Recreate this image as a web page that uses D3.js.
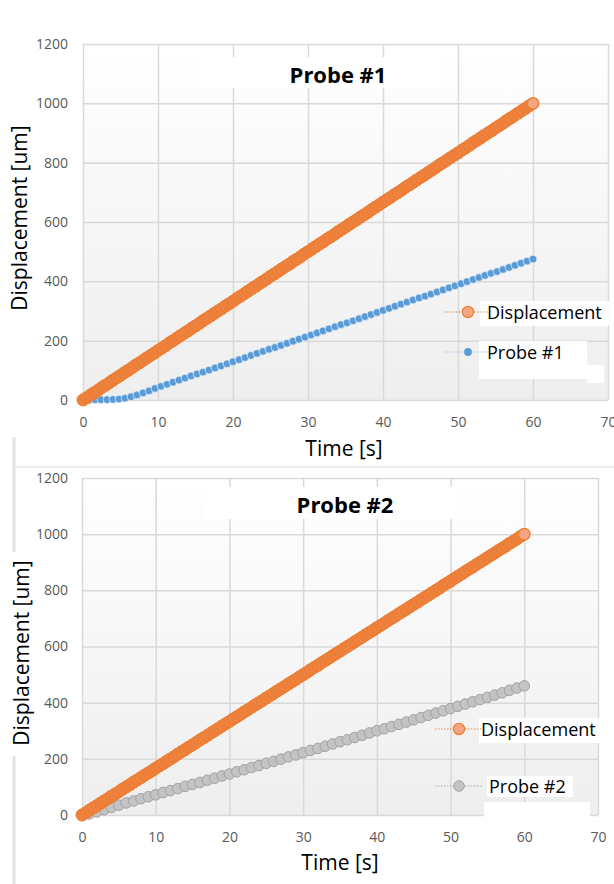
<!DOCTYPE html>
<html>
<head>
<meta charset="utf-8">
<script src="https://cdn.jsdelivr.net/npm/d3@7"></script>
<style>
  body { margin: 0; background: #fff; }
  text { font-family: "Open Sans", "DejaVu Sans", sans-serif; }
</style>
</head>
<body>
<div id="chart"></div>
<script>
const timeTicks = [0, 10, 20, 30, 40, 50, 60, 70];
const dispTicks = [0, 200, 400, 600, 800, 1000, 1200];

// imposed displacement, 0.5 s sampling
const dispTime = [
  0, 0.5, 1, 1.5, 2, 2.5, 3, 3.5, 4, 4.5, 5, 5.5, 6, 6.5, 7, 7.5, 8, 8.5, 9, 9.5,
  10, 10.5, 11, 11.5, 12, 12.5, 13, 13.5, 14, 14.5, 15, 15.5, 16, 16.5, 17, 17.5, 18, 18.5, 19, 19.5,
  20, 20.5, 21, 21.5, 22, 22.5, 23, 23.5, 24, 24.5, 25, 25.5, 26, 26.5, 27, 27.5, 28, 28.5, 29, 29.5,
  30, 30.5, 31, 31.5, 32, 32.5, 33, 33.5, 34, 34.5, 35, 35.5, 36, 36.5, 37, 37.5, 38, 38.5, 39, 39.5,
  40, 40.5, 41, 41.5, 42, 42.5, 43, 43.5, 44, 44.5, 45, 45.5, 46, 46.5, 47, 47.5, 48, 48.5, 49, 49.5,
  50, 50.5, 51, 51.5, 52, 52.5, 53, 53.5, 54, 54.5, 55, 55.5, 56, 56.5, 57, 57.5, 58, 58.5, 59, 59.5,
  60
];
const dispValues = [
  0, 8, 17, 25, 33, 42, 50, 58, 67, 75, 83, 92,
  100, 108, 117, 125, 133, 142, 150, 158, 167, 175, 183, 192,
  200, 208, 217, 225, 233, 242, 250, 258, 267, 275, 283, 292,
  300, 308, 317, 325, 333, 342, 350, 358, 367, 375, 383, 392,
  400, 408, 417, 425, 433, 442, 450, 458, 467, 475, 483, 492,
  500, 508, 517, 525, 533, 542, 550, 558, 567, 575, 583, 592,
  600, 608, 617, 625, 633, 642, 650, 658, 667, 675, 683, 692,
  700, 708, 717, 725, 733, 742, 750, 758, 767, 775, 783, 792,
  800, 808, 817, 825, 833, 842, 850, 858, 867, 875, 883, 892,
  900, 908, 917, 925, 933, 942, 950, 958, 967, 975, 983, 992,
  1000
];

// probe #1, 0.8 s sampling
const probe1Time = [
  0, 0.8, 1.6, 2.4, 3.2, 4, 4.8, 5.6, 6.4, 7.2, 8, 8.8, 9.6,
  10.4, 11.2, 12, 12.8, 13.6, 14.4, 15.2, 16, 16.8, 17.6, 18.4, 19.2,
  20, 20.8, 21.6, 22.4, 23.2, 24, 24.8, 25.6, 26.4, 27.2, 28, 28.8, 29.6,
  30.4, 31.2, 32, 32.8, 33.6, 34.4, 35.2, 36, 36.8, 37.6, 38.4, 39.2,
  40, 40.8, 41.6, 42.4, 43.2, 44, 44.8, 45.6, 46.4, 47.2, 48, 48.8, 49.6,
  50.4, 51.2, 52, 52.8, 53.6, 54.4, 55.2, 56, 56.8, 57.6, 58.4, 59.2,
  60
];
const probe1Values = [
  0, 0, 1, 1, 1, 2, 3, 6, 11, 17, 24, 31, 39,
  46, 53, 60, 67, 74, 81, 88, 94, 101, 108, 115, 122,
  129, 136, 143, 150, 157, 164, 171, 177, 184, 191, 198, 205, 212,
  219, 226, 233, 240, 247, 254, 260, 267, 274, 281, 288, 295,
  302, 309, 316, 323, 330, 337, 344, 350, 357, 364, 371, 378, 385,
  392, 399, 406, 413, 420, 427, 433, 440, 447, 454, 461, 468,
  475
];

// probe #2, 1 s sampling
const probe2Time = [
  0, 1, 2, 3, 4, 5, 6, 7, 8, 9, 10, 11, 12, 13, 14, 15, 16, 17, 18, 19,
  20, 21, 22, 23, 24, 25, 26, 27, 28, 29, 30, 31, 32, 33, 34, 35, 36, 37, 38, 39,
  40, 41, 42, 43, 44, 45, 46, 47, 48, 49, 50, 51, 52, 53, 54, 55, 56, 57, 58, 59,
  60
];
const probe2Values = [
  0, 4, 11, 19, 27, 35, 43, 50, 58, 65, 72, 80, 87, 94, 102, 109, 116, 124, 131, 139,
  146, 154, 161, 169, 176, 184, 191, 199, 207, 214, 222, 230, 237, 245, 253, 261, 268, 276, 284, 292,
  300, 307, 315, 323, 331, 339, 347, 355, 363, 371, 379, 387, 395, 403, 411, 419, 427, 435, 444, 452,
  460
];

const W = 614, H = 884;

const svg = d3.select('#chart')
  .append('svg')
  .attr('width', W)
  .attr('height', H);

const grad = svg.append('defs')
  .append('linearGradient')
  .attr('id', 'plotBg')
  .attr('x1', 0).attr('y1', 0).attr('x2', 0).attr('y2', 1);
grad.append('stop').attr('offset', '0%').attr('stop-color', '#ffffff');
grad.append('stop').attr('offset', '100%').attr('stop-color', '#eeeeee');

// leftover frame lines of the second chart box
svg.append('line')
  .attr('x1', 14).attr('x2', 14).attr('y1', 437).attr('y2', H)
  .attr('stroke', '#e2e2e2').attr('stroke-width', 3);
svg.append('line')
  .attr('x1', 14).attr('x2', W).attr('y1', 467).attr('y2', 467)
  .attr('stroke', '#e8e8e8').attr('stroke-width', 1.5);

const probe1Pts = probe1Time.map((t, i) => ({ t, v: probe1Values[i] }));
const probe2Pts = probe2Time.map((t, i) => ({ t, v: probe2Values[i] }));
const dispPts = dispTime.map((t, i) => ({ t, v: dispValues[i] }));

const panels = [
  {
    xRange: [83, 608], yRange: [400, 44],
    title: 'Probe #1', titleX: 338, titleY: 83, titleBox: [200, 57, 240, 31],
    timeX: 344, timeY: 456, timeBox: [298, 432, 94, 33],
    yLabelX: 27, yLabelY: 218, yLabelBox: null,
    probe: probe1Pts, probeName: 'Probe #1',
    probeStyle: { r: 3.9, fill: '#5B9BD5', stroke: '#ffffff', sw: 0.6, line: '#9dc3e6' },
    legend: {
      dispY: 312, probeY: 352, markX: 468, dispTextX: 487, probeTextX: 487,
      boxes: [[480, 301, 129, 25], [479, 341, 108, 38], [587, 365, 17, 18]]
    }
  },
  {
    xRange: [82, 598], yRange: [815, 478],
    title: 'Probe #2', titleX: 345, titleY: 513, titleBox: [205, 487, 250, 32],
    timeX: 340, timeY: 870, timeBox: null,
    yLabelX: 29, yLabelY: 653, yLabelBox: [6, 552, 28, 204],
    probe: probe2Pts, probeName: 'Probe #2',
    probeStyle: { r: 5.3, fill: '#C3C3C3', stroke: '#a2a2a2', sw: 1, line: '#a5a5a5' },
    legend: {
      dispY: 729, probeY: 786, markX: 459, dispTextX: 481, probeTextX: 489,
      boxes: [[479, 718, 124, 25], [487, 776, 86, 21], [484, 802, 106, 15]]
    }
  }
];

panels.forEach(p => {
  const x = d3.scaleLinear().domain([0, 70]).range(p.xRange);
  const y = d3.scaleLinear().domain([0, 1200]).range(p.yRange);
  const g = svg.append('g');

  g.append('rect')
    .attr('x', p.xRange[0]).attr('y', p.yRange[1])
    .attr('width', p.xRange[1] - p.xRange[0])
    .attr('height', p.yRange[0] - p.yRange[1])
    .attr('fill', 'url(#plotBg)');

  // grid
  const gx = g.append('g')
    .attr('transform', `translate(0,${p.yRange[0]})`)
    .call(d3.axisBottom(x).tickValues(timeTicks).tickSize(-(p.yRange[0] - p.yRange[1])).tickFormat(''));
  const gy = g.append('g')
    .attr('transform', `translate(${p.xRange[0]},0)`)
    .call(d3.axisLeft(y).tickValues(dispTicks).tickSize(-(p.xRange[1] - p.xRange[0])).tickFormat(''));
  [gx, gy].forEach(a => {
    a.select('.domain').remove();
    a.selectAll('line').attr('stroke', '#d9d9d9').attr('stroke-width', 1.5);
  });

  // tick labels
  const lx = g.append('g')
    .attr('transform', `translate(0,${p.yRange[0]})`)
    .call(d3.axisBottom(x).tickValues(timeTicks).tickSize(0).tickPadding(17).tickFormat(d3.format('d')));
  const ly = g.append('g')
    .attr('transform', `translate(${p.xRange[0]},0)`)
    .call(d3.axisLeft(y).tickValues(dispTicks).tickSize(0).tickPadding(p.xRange[0] - 68).tickFormat(d3.format('d')));
  [lx, ly].forEach(a => {
    a.select('.domain').remove();
    a.selectAll('text')
      .attr('fill', '#595959')
      .style('font-size', '14px')
      .style('font-family', '"Open Sans", sans-serif');
  });

  // white patches behind title
  g.append('rect')
    .attr('x', p.titleBox[0]).attr('y', p.titleBox[1])
    .attr('width', p.titleBox[2]).attr('height', p.titleBox[3])
    .attr('fill', '#fff');
  g.append('text')
    .attr('x', p.titleX).attr('y', p.titleY)
    .attr('text-anchor', 'middle')
    .style('font-size', '22px').style('font-weight', 'bold')
    .text(p.title);

  const line = d3.line().x(d => x(d.t)).y(d => y(d.v));

  // probe series
  g.append('path')
    .datum(p.probe)
    .attr('d', line)
    .attr('fill', 'none')
    .attr('stroke', p.probeStyle.line)
    .attr('stroke-width', 0.8)
    .attr('stroke-dasharray', '1.5,1.5');
  g.append('g').selectAll('circle')
    .data(p.probe)
    .join('circle')
    .attr('cx', d => x(d.t))
    .attr('cy', d => y(d.v))
    .attr('r', p.probeStyle.r)
    .attr('fill', p.probeStyle.fill)
    .attr('stroke', p.probeStyle.stroke)
    .attr('stroke-width', p.probeStyle.sw);

  // displacement series
  g.append('path')
    .datum(dispPts)
    .attr('d', line)
    .attr('fill', 'none')
    .attr('stroke', '#ED7D31')
    .attr('stroke-width', 0.8)
    .attr('stroke-dasharray', '1.5,1.5');
  g.append('g').selectAll('circle')
    .data(dispPts)
    .join('circle')
    .attr('cx', d => x(d.t))
    .attr('cy', d => y(d.v))
    .attr('r', 5.8)
    .attr('fill', (d, i) => i === dispPts.length - 1 ? '#F4A680' : '#EE8240')
    .attr('stroke', '#ED7D31')
    .attr('stroke-width', 1.3);

  // legend
  const L = p.legend;
  L.boxes.forEach(b => {
    g.append('rect')
      .attr('x', b[0]).attr('y', b[1]).attr('width', b[2]).attr('height', b[3])
      .attr('fill', '#fff');
  });
  const legendItems = [
    { y: L.dispY, tx: L.dispTextX, name: 'Displacement', r: 5.6, fill: '#F4A680', stroke: '#ED7D31', sw: 1.3, line: '#ED7D31' },
    { y: L.probeY, tx: L.probeTextX, name: p.probeName, r: p.probeStyle.r, fill: p.probeStyle.fill,
      stroke: p.probeStyle.r > 4 ? p.probeStyle.stroke : 'none', sw: p.probeStyle.sw, line: p.probeStyle.line }
  ];
  legendItems.forEach(it => {
    g.append('line')
      .attr('x1', L.markX - 24).attr('x2', L.markX + 24)
      .attr('y1', it.y).attr('y2', it.y)
      .attr('stroke', it.line).attr('stroke-width', 0.9)
      .attr('stroke-dasharray', '1.5,1.5');
    g.append('circle')
      .attr('cx', L.markX).attr('cy', it.y).attr('r', it.r)
      .attr('fill', it.fill).attr('stroke', it.stroke).attr('stroke-width', it.sw);
    g.append('text')
      .attr('x', it.tx).attr('y', it.y + 6.5)
      .style('font-size', '18px')
      .text(it.name);
  });

  // axis titles
  if (p.timeBox) {
    g.append('rect')
      .attr('x', p.timeBox[0]).attr('y', p.timeBox[1])
      .attr('width', p.timeBox[2]).attr('height', p.timeBox[3])
      .attr('fill', '#fff');
  }
  g.append('text')
    .attr('x', p.timeX).attr('y', p.timeY)
    .attr('text-anchor', 'middle')
    .style('font-size', '21px')
    .text('Time [s]');

  if (p.yLabelBox) {
    g.append('rect')
      .attr('x', p.yLabelBox[0]).attr('y', p.yLabelBox[1])
      .attr('width', p.yLabelBox[2]).attr('height', p.yLabelBox[3])
      .attr('fill', '#fff');
  }
  g.append('text')
    .attr('transform', `translate(${p.yLabelX},${p.yLabelY}) rotate(-90)`)
    .attr('text-anchor', 'middle')
    .style('font-size', '21px')
    .text('Displacement [um]');
});
</script>
</body>
</html>
